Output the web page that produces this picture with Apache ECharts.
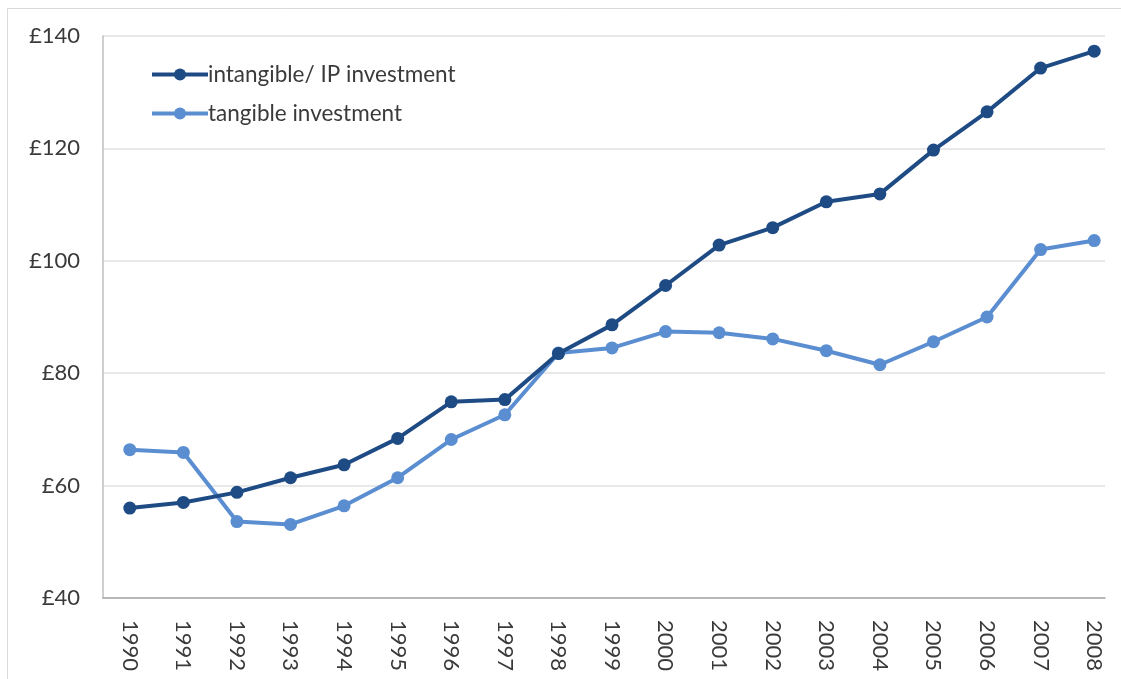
<!DOCTYPE html>
<html>
<head>
<meta charset="utf-8">
<script src="https://cdn.jsdelivr.net/npm/echarts@6/dist/echarts.min.js"></script>
<style>
  html, body { margin: 0; padding: 0; background: #fff; }
  #chart { width: 1121px; height: 679px; }
</style>
</head>
<body>
<div id="chart"></div>
<script>
// Investment index, 1990–2008 (£)
const years = ['1990','1991','1992','1993','1994','1995','1996','1997','1998','1999',
               '2000','2001','2002','2003','2004','2005','2006','2007','2008'];
const intangible = [56.0, 57.0, 58.8, 61.4, 63.7, 68.4, 74.9, 75.3, 83.5, 88.6,
                    95.6, 102.8, 105.9, 110.5, 111.9, 119.7, 126.5, 134.3, 137.3];
const tangible = [66.4, 65.9, 53.6, 53.1, 56.4, 61.4, 68.2, 72.6, 83.6, 84.5,
                  87.4, 87.2, 86.1, 84.0, 81.5, 85.6, 90.0, 102.0, 103.6];
const yTicks = { min: 40, max: 140, interval: 20 };

const FONT = 'Lato, "Open Sans", sans-serif';
const DARK = '#1f4b85';
const LIGHT = '#5a8ed1';

const chart = echarts.init(document.getElementById('chart'));
chart.setOption({
  backgroundColor: '#fff',
  animation: false,
  textStyle: { fontFamily: FONT },
  graphic: [{
    type: 'rect',
    shape: { x: 7.5, y: 8.5, width: 1130, height: 700 },
    style: { fill: 'none', stroke: '#d9d9d9', lineWidth: 1 },
    silent: true, z: -10
  }],
  legend: {
    orient: 'vertical',
    left: 145, top: 58,
    itemWidth: 56, itemHeight: 15, itemGap: 16,
    lineStyle: { width: 4 },
    textStyle: { fontFamily: FONT, fontSize: 22.5, color: '#3a3a3a', padding: [0, 0, 0, -5] },
    data: ['intangible/ IP investment', 'tangible investment']
  },
  grid: [
    // frame and horizontal gridlines
    { left: 103, top: 36, right: 16, bottom: 81 },
    // plotting area for the series
    { left: 103, top: 36, right: 0, bottom: 81 }
  ],
  xAxis: [
    {
      gridIndex: 0, type: 'value', min: 0, max: 1,
      axisLine: { show: true, lineStyle: { color: '#a6a6a6', width: 1.5 } },
      axisTick: { show: false }, axisLabel: { show: false }, splitLine: { show: false }
    },
    {
      gridIndex: 1, type: 'category', data: years, boundaryGap: true,
      axisLine: { show: false }, axisTick: { show: false },
      axisLabel: {
        rotate: -90, margin: 22, fontSize: 22, color: '#3a3a3a', fontFamily: FONT
      },
      splitLine: { show: false }
    }
  ],
  yAxis: [
    {
      gridIndex: 0, type: 'value', min: yTicks.min, max: yTicks.max, interval: yTicks.interval,
      axisLine: { show: true, lineStyle: { color: '#bfbfbf', width: 1.5 } },
      axisTick: { show: false },
      axisLabel: {
        formatter: '£{value}', fontSize: 22, color: '#3a3a3a', margin: 23, fontFamily: FONT
      },
      splitLine: { show: true, lineStyle: { color: '#e0e0e0', width: 1.5 } }
    },
    {
      gridIndex: 1, type: 'value', min: yTicks.min, max: yTicks.max, interval: yTicks.interval,
      axisLine: { show: false }, axisTick: { show: false },
      axisLabel: { show: false }, splitLine: { show: false }
    }
  ],
  series: [
    {
      name: 'intangible/ IP investment', type: 'line',
      xAxisIndex: 1, yAxisIndex: 1, data: intangible,
      symbol: 'circle', symbolSize: 13,
      lineStyle: { color: DARK, width: 4 },
      itemStyle: { color: DARK },
      z: 3
    },
    {
      name: 'tangible investment', type: 'line',
      xAxisIndex: 1, yAxisIndex: 1, data: tangible,
      symbol: 'circle', symbolSize: 13,
      lineStyle: { color: LIGHT, width: 4 },
      itemStyle: { color: LIGHT },
      z: 2
    }
  ]
});
</script>
</body>
</html>
